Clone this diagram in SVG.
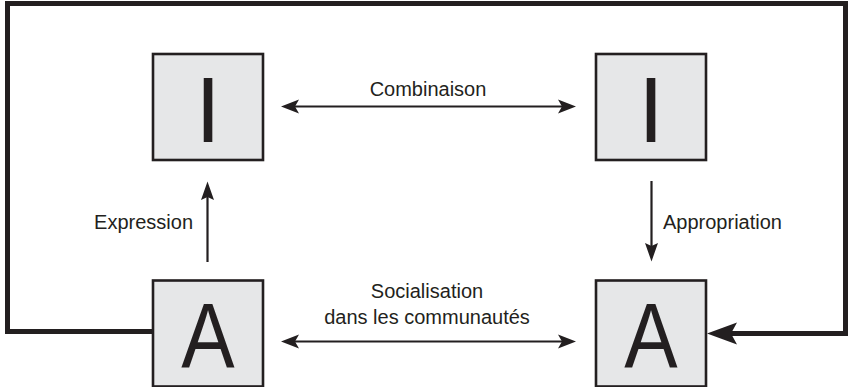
<svg xmlns="http://www.w3.org/2000/svg" width="848" height="387" viewBox="0 0 848 387">
<style>
.box{fill:#e6e7e8;stroke:#231f20;stroke-width:2.6}
.big{font-family:"Liberation Sans",Arial,sans-serif;font-size:92px;fill:#231f20;text-anchor:middle}
.lbl{font-family:"Liberation Sans",Arial,sans-serif;font-size:20px;fill:#231f20}
.ln{fill:none;stroke:#231f20;stroke-width:2.2}
.frame{fill:none;stroke:#231f20;stroke-width:5}
.ah{fill:#231f20}
</style>
<rect width="848" height="387" fill="#ffffff"/>
<g id="connectors">
  <path class="frame" d="M153,331.5 H7.5 V3.5 H845.5 V333.5 H731"/>
  <polygon class="ah" points="707,333.5 737,322.5 731,333.5 737,344.5"/>
  <line class="ln" x1="294" y1="106.5" x2="563" y2="106.5"/>
  <polygon class="ah" points="281,106.5 299,99.5 295,106.5 299,113.5"/>
  <polygon class="ah" points="576,106.5 558,99.5 562,106.5 558,113.5"/>
  <line class="ln" x1="294" y1="341.5" x2="563" y2="341.5"/>
  <polygon class="ah" points="281,341.5 299,334.5 295,341.5 299,348.5"/>
  <polygon class="ah" points="576,341.5 558,334.5 562,341.5 558,348.5"/>
  <line class="ln" x1="207.5" y1="262" x2="207.5" y2="196"/>
  <polygon class="ah" points="207.5,181.5 201,200 207.5,197 214,200"/>
  <line class="ln" x1="651.5" y1="181" x2="651.5" y2="247"/>
  <polygon class="ah" points="651.5,261.5 645,243 651.5,246 658,243"/>
  <text class="lbl" x="428" y="96" text-anchor="middle">Combinaison</text>
  <text class="lbl" x="427" y="298" text-anchor="middle">Socialisation</text>
  <text class="lbl" x="427" y="324" text-anchor="middle">dans les communautés</text>
  <text class="lbl" x="193" y="229" text-anchor="end">Expression</text>
  <text class="lbl" x="663" y="229">Appropriation</text>
</g>
<g id="node-I1">
  <rect class="box" x="153" y="54" width="110" height="106"/>
  <text class="big" x="208" y="142">I</text>
</g>
<g id="node-I2">
  <rect class="box" x="596" y="54" width="110" height="106"/>
  <text class="big" x="651" y="142">I</text>
</g>
<g id="node-A1">
  <rect class="box" x="153" y="280.5" width="110" height="106"/>
  <text class="big" transform="translate(208,368) scale(0.87,1)">A</text>
</g>
<g id="node-A2">
  <rect class="box" x="596" y="280.5" width="110" height="106"/>
  <text class="big" transform="translate(651,368) scale(0.87,1)">A</text>
</g>
</svg>
